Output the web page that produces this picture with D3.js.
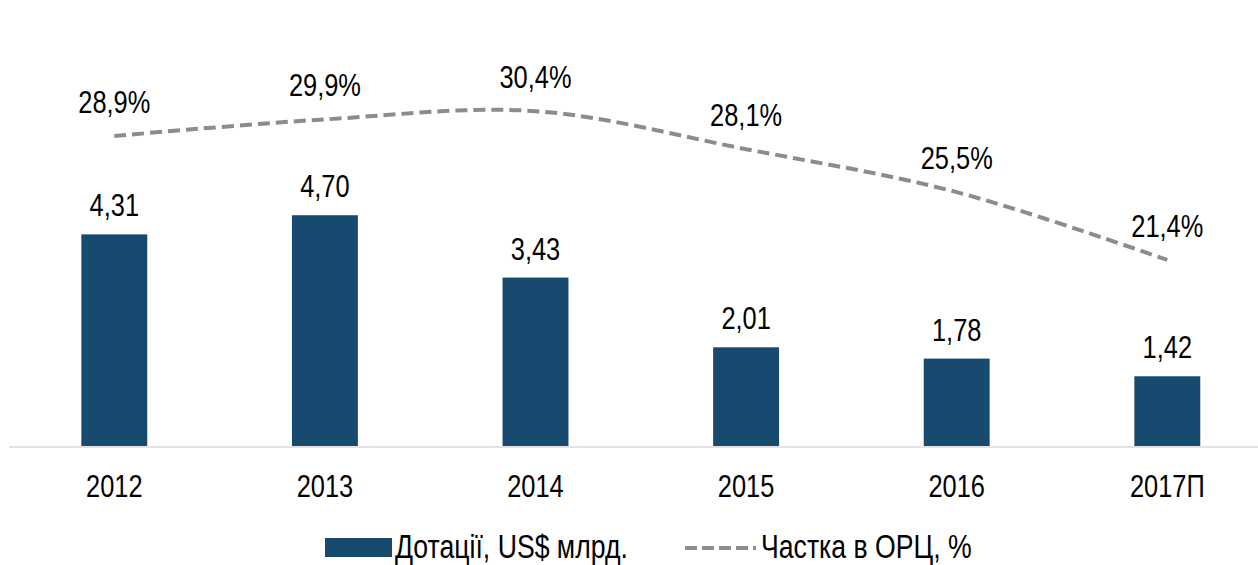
<!DOCTYPE html>
<html>
<head>
<meta charset="utf-8">
<script src="https://cdn.jsdelivr.net/npm/d3@7"></script>
<style>
  body { margin: 0; background: #fff; }
  svg text { font-family: "Liberation Sans", Arial, sans-serif; fill: #000; }
</style>
</head>
<body>
<div id="main"></div>
<script>
var years = ['2012', '2013', '2014', '2015', '2016', '2017П'];
var subsidies = [4.31, 4.70, 3.43, 2.01, 1.78, 1.42];
var share = [28.9, 29.9, 30.4, 28.1, 25.5, 21.4];
var legendLabels = ['Дотації, US$ млрд.', 'Частка в ОРЦ, %'];

var width = 1258, height = 565;
var barColor = '#174a6e', lineColor = '#8c8c8c';
var narrow = 0.82; // no Arial Narrow here, so squeeze Liberation Sans

var fmt = function(v, d) { return v.toFixed(d).replace('.', ','); };

var svg = d3.select('#main')
    .append('svg')
    .attr('width', width).attr('height', height);

var x = d3.scaleBand().domain(years).range([9, 1272.6])
    .paddingInner(0.687).paddingOuter(0.3435);
var y = d3.scaleLinear().domain([0, 5]).range([446, 200.5]);
var y2 = d3.scaleLinear().domain([0, 35]).range([613.7, 35.1]);

var cx = function(i) { return x(years[i]) + x.bandwidth() / 2; };

// bars
svg.selectAll('rect.bar')
    .data(subsidies)
  .enter().append('rect')
    .attr('class', 'bar')
    .attr('x', function(d, i) { return x(years[i]); })
    .attr('y', function(d) { return y(d); })
    .attr('width', x.bandwidth())
    .attr('height', function(d) { return y(0) - y(d); })
    .attr('fill', barColor);

svg.selectAll('text.barlabel')
    .data(subsidies)
  .enter().append('text')
    .attr('class', 'barlabel')
    .attr('transform', function(d, i) { return 'translate(' + cx(i) + ',' + (y(d) - 18) + ') scale(' + narrow + ',1)'; })
    .attr('text-anchor', 'middle')
    .attr('font-size', 31)
    .text(function(d) { return fmt(d, 2); });

// axis line
svg.append('line')
    .attr('x1', 9).attr('x2', width)
    .attr('y1', 447).attr('y2', 447)
    .attr('stroke', '#d9d9d9').attr('stroke-width', 1.5);

var xAxis = svg.append('g')
    .attr('transform', 'translate(0,447)')
    .call(d3.axisBottom(x).tickSize(0).tickPadding(0));
xAxis.select('.domain').remove();
xAxis.selectAll('text')
    .attr('dy', null)
    .attr('y', 50)
    .attr('transform', 'scale(' + narrow + ',1)')
    .attr('font-size', 31)
    .attr('fill', '#000');
xAxis.attr('font-family', null);

// line
var line = d3.line()
    .x(function(d, i) { return cx(i); })
    .y(function(d) { return y2(d); })
    .curve(d3.curveCatmullRom.alpha(0.5));

svg.append('path')
    .datum(share)
    .attr('d', line)
    .attr('fill', 'none')
    .attr('stroke', lineColor)
    .attr('stroke-width', 4)
    .attr('stroke-dasharray', '12,6');

svg.selectAll('text.linelabel')
    .data(share)
  .enter().append('text')
    .attr('class', 'linelabel')
    .attr('transform', function(d, i) { return 'translate(' + cx(i) + ',' + (y2(d) - 23) + ') scale(' + narrow + ',1)'; })
    .attr('text-anchor', 'middle')
    .attr('font-size', 31)
    .text(function(d) { return fmt(d, 1) + '%'; });

// legend
var legend = svg.append('g');
legend.append('rect')
    .attr('x', 325).attr('y', 538)
    .attr('width', 67).attr('height', 19)
    .attr('fill', barColor);
legend.append('text')
    .attr('transform', 'translate(395,558) scale(' + narrow + ',1)')
    .attr('font-size', 32.5)
    .text(legendLabels[0]);
legend.append('line')
    .attr('x1', 685).attr('x2', 756)
    .attr('y1', 548).attr('y2', 548)
    .attr('stroke', lineColor).attr('stroke-width', 4)
    .attr('stroke-dasharray', '12,5');
legend.append('text')
    .attr('transform', 'translate(761,558) scale(' + narrow + ',1)')
    .attr('font-size', 32.5)
    .text(legendLabels[1]);
</script>
</body>
</html>
